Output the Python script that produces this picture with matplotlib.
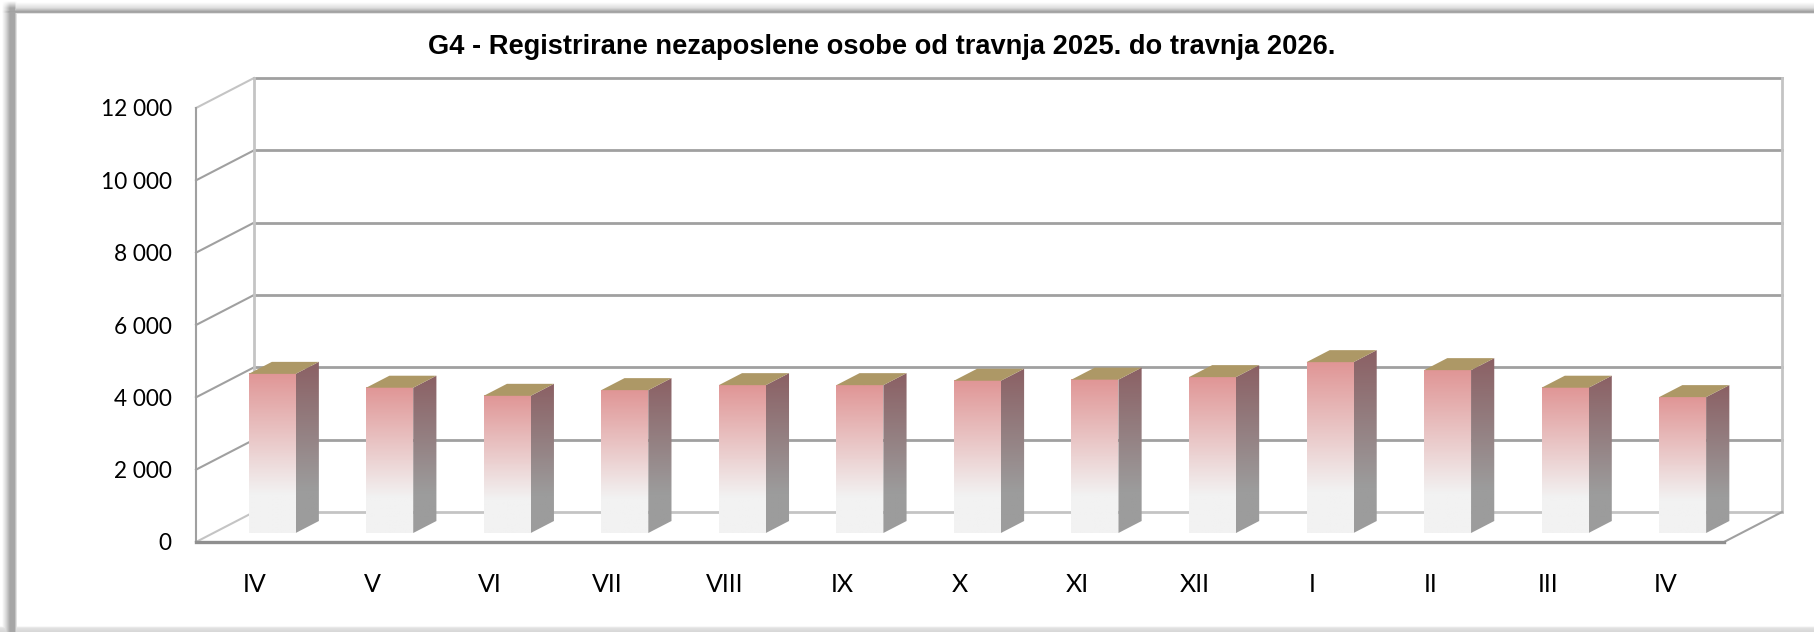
import numpy as np
import matplotlib
matplotlib.use("Agg")
import matplotlib.pyplot as plt
from matplotlib.patches import Polygon
from matplotlib.colors import LinearSegmentedColormap

title = "G4 - Registrirane nezaposlene osobe od travnja 2025. do travnja 2026."
months = ["IV", "V", "VI", "VII", "VIII", "IX", "X", "XI", "XII", "I", "II", "III", "IV"]
values = [4400, 4017, 3793, 3950, 4088, 4088, 4210, 4240, 4310, 4724, 4503, 4017, 3757]
y_ticks = [0, 2000, 4000, 6000, 8000, 10000, 12000]
y_labels = ["0", "2 000", "4 000", "6 000", "8 000", "10 000", "12 000"]

W, H = 1814, 632
fig = plt.figure(figsize=(W / 100, H / 100), dpi=100, facecolor="white")

# full-figure backdrop: the bevelled frame as a grey-level image
bg = fig.add_axes([0, 0, 1, 1], zorder=0)
px, py = np.meshgrid(np.arange(W) + 0.5, np.arange(H) + 0.5)
ramp_x = np.interp(px, [2, 9], [0, 1])
ramp_y = np.interp(py, [1, 8], [0, 1])
T = np.interp(py, [2, 8, 11.5, 12.8, 13.8], [1, .86, .64, .66, 1])
L = np.interp(px, [2, 6, 10, 14.5, 17.5], [1, .85, .65, .65, 1])
B = np.interp(py, [626, 628, 632], [1, .88, .84])
T = 1 - (1 - T) * ramp_x
L = 1 - (1 - L) * ramp_y
frame = np.minimum.reduce([T, L, B])
bg.imshow(frame, extent=(0, W, H, 0), cmap="gray", vmin=0, vmax=1, aspect="auto", interpolation="nearest")
bg.axis("off")

# plot axes: value and category scales mapped on to the front plane
x0, x1, y0, y1 = 196, 1724, 542, 108
ax = fig.add_axes([x0 / W, 1 - y0 / H, (x1 - x0) / W, (y0 - y1) / H], zorder=1)
ax.patch.set_alpha(0)
n = len(values)
XL = (-0.5, n - 0.5)
YL = (0, 12000)
sx = (x1 - x0) / n            # pixels per category
sy = (y0 - y1) / YL[1]        # pixels per value unit
DX, DY = 58 / sx, 30 / sy     # depth vector of the 3D floor


def proj(x, v, d=0.0):
    return x + d * DX, v + d * DY


LINE = "#a0a0a0"
LIGHT = "#c4c4c4"
# back wall, side wall and gridlines
for v in y_ticks:
    c = LIGHT if v in (0, 12000) else LINE
    ax.plot(*zip(proj(XL[0], v), proj(XL[0], v, 1)), color=c, lw=1.5, clip_on=False, zorder=1)
    ax.plot(*zip(proj(XL[0], v, 1), proj(XL[1], v, 1)), color=LIGHT if v == 0 else LINE, lw=2, clip_on=False, zorder=1)
ax.plot(*zip(proj(XL[0], 0, 1), proj(XL[0], YL[1], 1)), color=LIGHT, lw=2, clip_on=False, zorder=1)
ax.plot(*zip(proj(XL[1], 0, 1), proj(XL[1], YL[1], 1)), color=LIGHT, lw=2, clip_on=False, zorder=1)
ax.plot(*zip(proj(XL[1], 0), proj(XL[1], 0, 1)), color=LINE, lw=1.5, clip_on=False, zorder=1)
ax.plot([XL[0], XL[0]], YL, color=LINE, lw=1.5, clip_on=False, zorder=1)
ax.plot(XL, [0, 0], color="#8f8f8f", lw=2.4, clip_on=False, zorder=1)

front_cm = LinearSegmentedColormap.from_list("f", [(0, "#f2f2f2"), (0.24, "#f2f2f2"), (1, "#e09696")])
side_cm = LinearSegmentedColormap.from_list("s", [(0, "#9c9c9c"), (0.25, "#9c9c9c"), (1, "#8b6064")])
grad = np.linspace(1, 0, 128)[:, None]
BW, D0, D1 = 47 / sx, 0.3, 0.7

for i, v in enumerate(values):
    xl = i - BW / 2
    xr = xl + BW
    # front face
    fx0, fb = proj(xl, 0, D0)
    fx1, ft = proj(xr, v, D0)
    ax.imshow(grad, extent=(fx0, fx1, fb, ft), cmap=front_cm, vmin=0, vmax=1, aspect="auto", zorder=3)
    # side face
    side = [proj(xr, 0, D0), proj(xr, v, D0), proj(xr, v, D1), proj(xr, 0, D1)]
    xs, ys = zip(*side)
    im = ax.imshow(grad, extent=(min(xs), max(xs), min(ys), max(ys)), cmap=side_cm, vmin=0, vmax=1, aspect="auto", zorder=3)
    im.set_clip_box(fig.bbox)
    im.set_clip_path(Polygon(side, closed=True, transform=ax.transData))
    # top face
    ax.add_patch(Polygon([proj(xl, v, D0), proj(xr, v, D0), proj(xr, v, D1), proj(xl, v, D1)],
                         closed=True, fc="#ad9866", ec="none", zorder=4, clip_on=False))

ax.set_xlim(*XL); ax.set_ylim(*YL)
for s in ax.spines.values():
    s.set_visible(False)
ax.set_xticks(range(n), months, fontsize=18, family="Lato", color="black")
ax.set_yticks(y_ticks, y_labels, fontsize=16.3, family="Lato", color="black", va="center_baseline")
ax.tick_params(length=0)
ax.tick_params(axis="x", pad=22)
ax.tick_params(axis="y", pad=17.5)

fig.text(882 / W, 1 - 47 / H, title, ha="center", va="center", fontsize=19.65,
         fontweight="bold", family="Liberation Sans", color="black")

fig.savefig("out.png", dpi=100)
